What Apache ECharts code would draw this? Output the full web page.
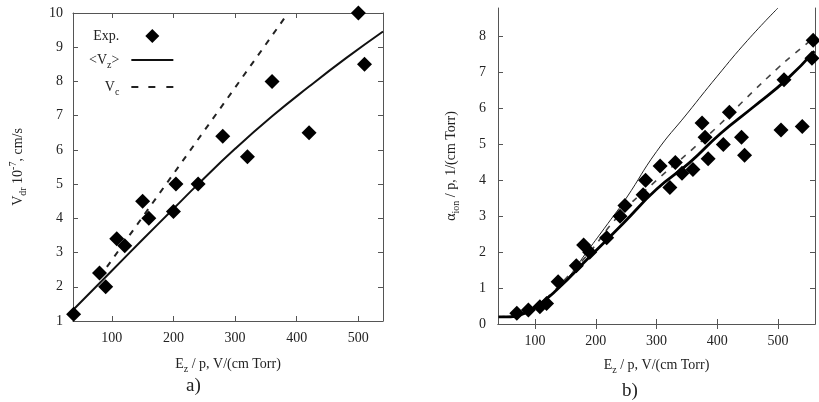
<!DOCTYPE html>
<html>
<head>
<meta charset="utf-8">
<script src="https://cdn.jsdelivr.net/npm/echarts@6/dist/echarts.min.js"></script>
<style>html,body{margin:0;padding:0;background:#fff}#c{width:819px;height:402px}</style>
</head>
<body>
<div id="c"></div>
<script>
// ---- Panel a) data ----
const aExpX = [38, 80, 90, 108, 121, 150, 160, 200, 204, 240, 280, 320, 360, 420, 500, 510];
const aExpY = [1.2, 2.4, 2.0, 3.4, 3.2, 4.5, 4.0, 4.2, 5.0, 5.0, 6.4, 5.8, 8.0, 6.5, 10.0, 8.5];
const aVzX = [37, 100, 150, 200, 240, 300, 360, 420, 480, 540];
const aVzY = [1.32, 2.47, 3.38, 4.28, 5.0, 6.03, 6.98, 7.85, 8.68, 9.46];
const aVcX = [92, 200, 300, 386];
const aVcY = [2.58, 5.3, 7.82, 10.0];
const aXTicks = [100, 200, 300, 400, 500];
const aYTicks = [1, 2, 3, 4, 5, 6, 7, 8, 9, 10];

// ---- Panel b) data ----
const bExpX = [70, 89, 108, 119, 138, 168, 180, 190, 218, 240, 248, 278, 282, 306, 322, 331, 342, 360, 375, 380, 385, 410, 420, 440, 445, 505, 510, 540, 556, 558];
const bExpY = [0.3, 0.39, 0.48, 0.57, 1.18, 1.62, 2.2, 2.0, 2.4, 3.0, 3.3, 3.6, 4.0, 4.4, 3.8, 4.5, 4.2, 4.3, 5.6, 5.2, 4.6, 5.0, 5.9, 5.2, 4.7, 5.4, 6.8, 5.5, 7.4, 7.9];
const bThickX = [40, 60, 80, 100, 135, 190, 245, 300, 355, 405, 460, 515, 560];
const bThickY = [0.2, 0.2, 0.28, 0.45, 0.94, 1.87, 2.8, 3.75, 4.5, 5.3, 6.05, 6.82, 7.6];
const bThinX = [40, 60, 80, 100, 125, 150, 185, 220, 250, 300, 350, 400, 450, 500];
const bThinY = [0.2, 0.22, 0.3, 0.5, 0.8, 1.2, 2.0, 2.8, 3.5, 4.8, 5.85, 6.9, 7.9, 8.8];
const bDashX = [40, 70, 100, 130, 155, 190, 237, 300, 358, 405, 449, 498, 523, 558];
const bDashY = [0.2, 0.25, 0.48, 0.9, 1.35, 2.0, 3.0, 4.0, 4.85, 5.57, 6.31, 7.1, 7.47, 7.95];
const bXTicks = [100, 200, 300, 400, 500];
const bYTicks = [0, 1, 2, 3, 4, 5, 6, 7, 8];

const legendNames = ['Exp.', '<Vz>', 'Vc'];

const FONT = 'Liberation Serif';
const pair = (xs, ys) => xs.map((x, i) => [x, ys[i]]);
const AX = '#555';
const rich = {
  n: {fontFamily: FONT, fontSize: 14, color: '#222', lineHeight: 20},
  sub: {fontFamily: FONT, fontSize: 10, color: '#222', verticalAlign: 'bottom', lineHeight: 14},
  sup: {fontFamily: FONT, fontSize: 10, color: '#222', verticalAlign: 'top', lineHeight: 14}
};

function xAxes(gi, min, max, ticks, name, gap) {
  const base = {
    type: 'value', gridIndex: gi, min: min, max: max,
    axisLine: {show: true, lineStyle: {color: AX, width: 1}},
    splitLine: {show: false},
    axisTick: {show: true, inside: true, length: 5, customValues: ticks, lineStyle: {color: AX}}
  };
  return [
    Object.assign({}, base, {
      position: 'bottom',
      axisLabel: {customValues: ticks, fontFamily: FONT, fontSize: 14, color: '#222', margin: 10},
      name: name, nameLocation: 'middle', nameGap: gap,
      nameTextStyle: {rich: rich}
    }),
    Object.assign({}, base, {position: 'top', axisLabel: {show: false}})
  ];
}
function yAxes(gi, min, max, ticks, name, gap, margin) {
  const base = {
    type: 'value', gridIndex: gi, min: min, max: max,
    axisLine: {show: true, lineStyle: {color: AX, width: 1}},
    splitLine: {show: false},
    axisTick: {show: true, inside: true, length: 5, customValues: ticks, lineStyle: {color: AX}}
  };
  return [
    Object.assign({}, base, {
      position: 'left',
      axisLabel: {customValues: ticks, fontFamily: FONT, fontSize: 14, color: '#222', margin: margin},
      name: name, nameLocation: 'middle', nameGap: gap, nameRotate: 90,
      nameTextStyle: {rich: rich}
    }),
    Object.assign({}, base, {position: 'right', axisLabel: {show: false}})
  ];
}

const xTitle = '{n|E}{sub|z}{n| / p, V/(cm Torr)}';

const option = {
  animation: false,
  backgroundColor: '#fff',
  grid: [
    {left: 73, top: 13, width: 310, height: 308},
    {left: 498, top: 8, width: 317, height: 316}
  ],
  xAxis: [].concat(
    xAxes(0, 37, 540, aXTicks, xTitle, 33),
    xAxes(1, 39, 561, bXTicks, xTitle, 31)
  ),
  yAxis: [].concat(
    yAxes(0, 1, 10, aYTicks, '{n|V}{sub|dr}{n| 10}{sup|-7}{n|, cm/s}', 45, 10),
    yAxes(1, 0, 8.8, bYTicks, '{n|α}{sub|ion}{n| / p, 1/(cm Torr)}', 37, 12)
  ),
  legend: {
    data: [
      {name: legendNames[0], icon: 'path://M7,0L14,7L7,14L0,7Z'},
      {name: legendNames[1], icon: 'path://M0,0H42V2H0Z'},
      {name: legendNames[2], icon: 'path://M0,0H7V2H0Z M17,0H24V2H17Z M35,0H42V2H35Z'}
    ],
    orient: 'vertical', align: 'right',
    left: 84, top: 24, itemWidth: 42, itemHeight: 14, itemGap: 10,
    symbolKeepAspect: true,
    formatter: function (nm) {
      if (nm === '<Vz>') return '{n|<V}{sub|z}{n|>}';
      if (nm === 'Vc') return '{n|V}{sub|c}';
      return '{n|' + nm + '}';
    },
    textStyle: {rich: rich, padding: [0, 7, 0, 0]}
  },
  title: [
    {text: 'a)', left: 181, top: 372, textStyle: {fontFamily: FONT, fontSize: 19, fontWeight: 'normal', color: '#222'}},
    {text: 'b)', left: 617, top: 377, textStyle: {fontFamily: FONT, fontSize: 19, fontWeight: 'normal', color: '#222'}}
  ],
  series: [
    {name: '<Vz>', type: 'line', xAxisIndex: 0, yAxisIndex: 0, data: pair(aVzX, aVzY), smooth: true,
     symbol: 'none', lineStyle: {color: '#111', width: 2}, itemStyle: {color: '#111'}},
    {name: 'Vc', type: 'line', xAxisIndex: 0, yAxisIndex: 0, data: pair(aVcX, aVcY),
     symbol: 'none', lineStyle: {color: '#222', width: 2, type: [6, 7]}, itemStyle: {color: '#222'}},
    {name: 'Exp.', type: 'scatter', xAxisIndex: 0, yAxisIndex: 0, data: pair(aExpX, aExpY),
     symbol: 'diamond', symbolSize: 15, itemStyle: {color: '#000', opacity: 1}, z: 5},
    {name: 'thin', type: 'line', xAxisIndex: 2, yAxisIndex: 2, data: pair(bThinX, bThinY), smooth: true,
     symbol: 'none', lineStyle: {color: '#222', width: 1}},
    {name: 'dash', type: 'line', xAxisIndex: 2, yAxisIndex: 2, data: pair(bDashX, bDashY), smooth: true,
     symbol: 'none', lineStyle: {color: '#444', width: 1.6, type: [6, 7]}},
    {name: 'thick', type: 'line', xAxisIndex: 2, yAxisIndex: 2, data: pair(bThickX, bThickY), smooth: true,
     symbol: 'none', lineStyle: {color: '#000', width: 2.8}},
    {name: 'expb', type: 'scatter', xAxisIndex: 2, yAxisIndex: 2, data: pair(bExpX, bExpY),
     symbol: 'diamond', symbolSize: 15, itemStyle: {color: '#000', opacity: 1}, z: 5}
  ]
};
const chart = echarts.init(document.getElementById('c'), null, {renderer: 'canvas'});
chart.setOption(option);
</script>
</body>
</html>
